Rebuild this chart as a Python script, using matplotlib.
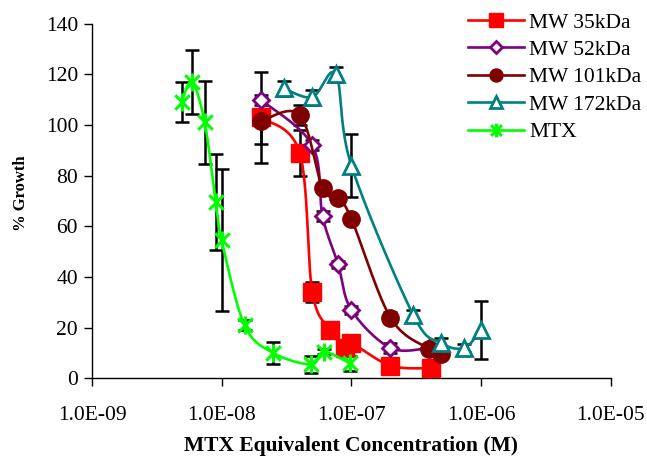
import numpy as np
import matplotlib
matplotlib.use('Agg')
import matplotlib.pyplot as plt
from matplotlib.path import Path
from matplotlib.lines import Line2D
from matplotlib.ticker import NullLocator

plt.rcParams['font.family'] = ['Liberation Serif', 'DejaVu Serif']

# ---------------- data ----------------
x35 = [2.0e-8, 4.0e-8, 5.0e-8, 6.9e-8, 8.9e-8, 9.9e-8, 2.0e-7, 4.1e-7]
y35 = [103, 89, 34, 19, 12, 14, 5, 4]
e35 = [18, 9, 4, 1, 1, 1, 1, 1]

x52 = [2.0e-8, 5.0e-8, 6.0e-8, 7.9e-8, 1.0e-7, 2.0e-7, 4.0e-7]
y52 = [110, 92, 64, 45, 27, 12, 12]
e52 = [2, 2, 2, 1.5, 1.5, 2, 1]

x101 = [2.0e-8, 4.0e-8, 6.0e-8, 7.9e-8, 1.0e-7, 2.0e-7, 4.0e-7, 4.9e-7]
y101 = [101.5, 104, 75, 71, 63, 24, 11.5, 9.5]
e101 = [9, 4, 1, 1, 1, 2, 2, 1]

x172 = [3.0e-8, 5.0e-8, 7.6e-8, 1.0e-7, 3.0e-7, 4.9e-7, 7.4e-7, 1.0e-6]
y172 = [114.5, 111, 120, 84, 25, 14, 12, 19]
e172 = [3, 3, 3, 12.5, 2, 2, 1.5, 11.5]

xmtx = [4.9e-9, 5.9e-9, 7.4e-9, 9.0e-9, 1.0e-8, 1.5e-8, 2.5e-8, 4.9e-8, 6.1e-8, 9.7e-8]
ymtx = [109, 117, 101, 69.5, 54.5, 21, 10, 5.5, 10.5, 6]
emtx = [8, 12.5, 16.5, 19, 28, 2, 4.5, 3.5, 1, 3]

series_labels = ['MW 35kDa', 'MW 52kDa', 'MW 101kDa', 'MW 172kDa', 'MTX']
xtick_vals = [1e-9, 1e-8, 1e-7, 1e-6, 1e-5]
xtick_labels = ['1.0E-09', '1.0E-08', '1.0E-07', '1.0E-06', '1.0E-05']
ytick_vals = [0, 20, 40, 60, 80, 100, 120, 140]

# ---------------- figure ----------------
fig = plt.figure(figsize=(6.47, 4.58), dpi=100)
ax = fig.add_axes([92 / 647, 1 - 378.3 / 458, (610.7 - 92) / 647, (378.3 - 23.7) / 458])
ax.set_xscale('log')
ax.set_xlim(1e-9, 1e-5)
ax.set_ylim(0, 140)


def smooth(x, y, n=40):
    pts = ax.transData.transform(np.column_stack([x, y]))
    P = np.vstack([pts[0], pts, pts[-1]])
    out = []
    for i in range(1, len(P) - 2):
        p0, p1, p2, p3 = P[i - 1], P[i], P[i + 1], P[i + 2]
        c1 = p1 + (p2 - p0) / 6.0
        c2 = p2 - (p3 - p1) / 6.0
        t = np.linspace(0, 1, n)[:, None]
        seg = (1 - t) ** 3 * p1 + 3 * (1 - t) ** 2 * t * c1 + 3 * (1 - t) * t ** 2 * c2 + t ** 3 * p2
        out.append(seg if i == 1 else seg[1:])
    out = np.vstack(out)
    d = ax.transData.inverted().transform(out)
    return d[:, 0], d[:, 1]


star = Path([(0, 1), (0, -1), (-0.8, 0.8), (0.8, -0.8), (-0.8, -0.8), (0.8, 0.8)],
            [Path.MOVETO, Path.LINETO, Path.MOVETO, Path.LINETO, Path.MOVETO, Path.LINETO])

styles = [
    dict(x=x35, y=y35, e=e35, c='#FF0000', m='s', ms=13, mfc='#FF0000', mew=1.0),
    dict(x=x52, y=y52, e=e52, c='#800080', m='D', ms=8, mfc='white', mew=2.0),
    dict(x=x101, y=y101, e=e101, c='#800000', m='o', ms=12.5, mfc='#800000', mew=1.0),
    dict(x=x172, y=y172, e=e172, c='#008080', m='^', ms=11, mfc='white', mew=2.0),
    dict(x=xmtx, y=ymtx, e=emtx, c='#00FF00', m=star, ms=13, mfc='none', mew=2.2),
]

handles = []
for k, s in enumerate(styles):
    ax.errorbar(s['x'], s['y'], yerr=s['e'], fmt='none', ecolor='black',
                elinewidth=1.8, capsize=5, capthick=1.8, zorder=2 + k * 0.1)
    sx, sy = smooth(s['x'], s['y'])
    ax.plot(sx, sy, color=s['c'], lw=1.9, zorder=3 + k * 0.1, solid_capstyle='round')
    mfc = s['mfc']
    ax.plot(s['x'], s['y'], linestyle='none', marker=s['m'], ms=s['ms'],
            mfc=mfc, mec=s['c'], mew=s['mew'], zorder=3.05 + k * 0.1)
    handles.append(Line2D([], [], color=s['c'], lw=1.9, marker=s['m'], ms=s['ms'],
                          mfc=mfc, mec=s['c'], mew=s['mew']))

for side in ['top', 'right']:
    ax.spines[side].set_visible(False)
for side in ['left', 'bottom']:
    ax.spines[side].set_linewidth(1.0)
    ax.spines[side].set_color('black')

ax.set_xticks(xtick_vals)
ax.set_xticklabels(xtick_labels)
ax.xaxis.set_minor_locator(NullLocator())
ax.set_yticks(ytick_vals)
ax.tick_params(axis='both', direction='out', length=6, width=1.0, labelsize=15.5)
ax.tick_params(axis='x', pad=14)
ax.tick_params(axis='y', pad=4)

ax.set_xlabel('MTX Equivalent Concentration (M)', fontsize=15.5, fontweight='bold', labelpad=8)
ax.set_ylabel('% Growth', fontsize=12, fontweight='bold')
ax.yaxis.set_label_coords(-0.121, 0.5226)

ax.legend(handles, series_labels, loc='upper left',
          bbox_to_anchor=(468 / 647, 1 - 12.5 / 458), bbox_transform=fig.transFigure,
          frameon=False, fontsize=15.5, handlelength=2.6, handletextpad=0.25,
          labelspacing=0.34, borderpad=0, borderaxespad=0, markerscale=0.75)

fig.savefig('out.png', dpi=100)
